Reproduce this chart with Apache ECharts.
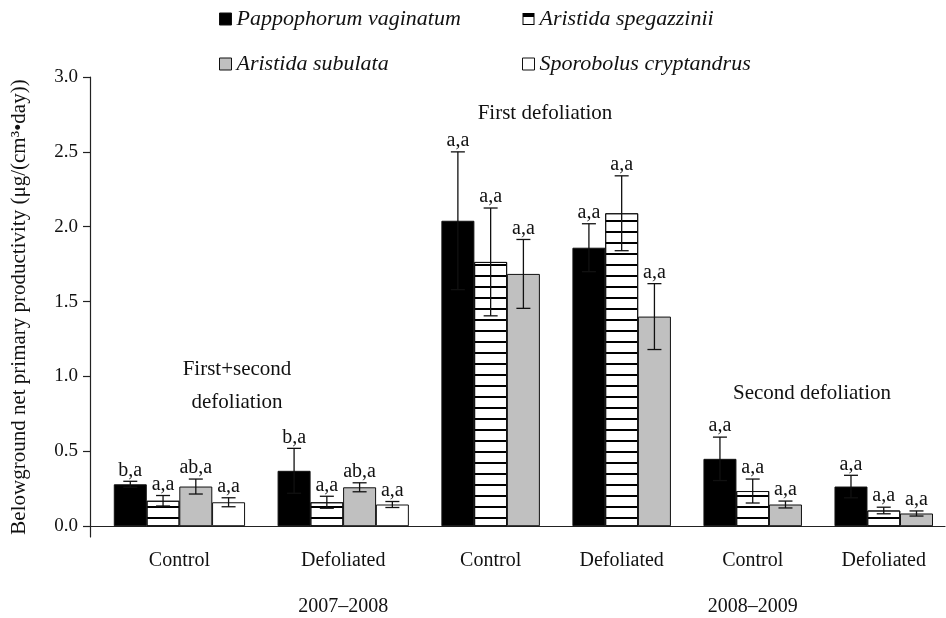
<!DOCTYPE html>
<html>
<head>
<meta charset="utf-8">
<title>Belowground net primary productivity</title>
<script src="https://cdn.jsdelivr.net/npm/echarts@6.0.0/dist/echarts.min.js"></script>
<style>
    html, body { margin: 0; padding: 0; background: #fff; }
    #main { width: 946px; height: 618px; }
</style>
</head>
<body>
<div id="main"></div>
<script>
var groupNames = ['Control', 'Defoliated', 'Control', 'Defoliated', 'Control', 'Defoliated'];
var yearNames = ['', '2007–2008', '', '', '2008–2009', ''];
var speciesNames = ['Pappophorum vaginatum', 'Aristida spegazzinii', 'Aristida subulata', 'Sporobolus cryptandrus'];

// 各物种的平均值（null 表示该处理下没有数据）
var pappophorum = [0.28, 0.37, 2.04, 1.86, 0.45, 0.265];
var spegazzinii = [0.17, 0.16, 1.765, 2.09, 0.235, 0.105];
var subulata = [0.265, 0.26, 1.685, 1.40, 0.145, 0.085];
var sporobolus = [0.16, 0.145, null, null, null, null];

// 标准误
var pappophorumErr = [0.02, 0.15, 0.46, 0.16, 0.145, 0.075];
var spegazziniiErr = [0.035, 0.04, 0.36, 0.25, 0.08, 0.022];
var subulataErr = [0.05, 0.03, 0.23, 0.22, 0.023, 0.017];
var sporobolusErr = [0.03, 0.02, null, null, null, null];

// 显著性字母
var pappophorumLetters = ['b,a', 'b,a', 'a,a', 'a,a', 'a,a', 'a,a'];
var spegazziniiLetters = ['a,a', 'a,a', 'a,a', 'a,a', 'a,a', 'a,a'];
var subulataLetters = ['ab,a', 'ab,a', 'a,a', 'a,a', 'a,a', 'a,a'];
var sporobolusLetters = ['a,a', 'a,a', null, null, null, null];

var yTicks = [0, 0.5, 1.0, 1.5, 2.0, 2.5, 3.0];

var valueSets = [pappophorum, spegazzinii, subulata, sporobolus];
var errSets = [pappophorumErr, spegazziniiErr, subulataErr, sporobolusErr];
var letterSets = [pappophorumLetters, spegazziniiLetters, subulataLetters, sporobolusLetters];

var fontName = '"Liberation Serif", "Times New Roman", serif';

// 每组的柱子连在一起，组与组之间空一个柱位
var slotStart = [];
var slotCenter = [];
var pos = 0;
for (var g = 0; g < groupNames.length; g++) {
    var n = 0;
    for (var s = 0; s < valueSets.length; s++) {
        if (valueSets[s][g] != null) n++;
    }
    slotStart.push(pos);
    slotCenter.push(pos + n / 2);
    pos += n + 1;
}

var barStyles = [
    {color: '#000', borderColor: '#111', borderWidth: 1},
    {color: '#fff', borderColor: '#111', borderWidth: 1,
        decal: {symbol: 'rect', symbolSize: 1, dashArrayX: [1, 0], dashArrayY: [2, 8.5], color: '#000'}},
    {color: '#c0c0c0', borderColor: '#111', borderWidth: 1},
    {color: '#fff', borderColor: '#111', borderWidth: 1}
];

var series = [];
var errData = [];
var errLetters = [];
for (var s = 0; s < valueSets.length; s++) {
    var data = [];
    for (var g = 0; g < groupNames.length; g++) {
        var v = valueSets[s][g];
        if (v == null) continue;
        var x = slotStart[g] + s + 0.5;
        data.push([x, v]);
        errData.push([x, v, errSets[s][g]]);
        errLetters.push(letterSets[s][g]);
    }
    series.push({
        name: speciesNames[s],
        type: 'bar',
        barWidth: 33,
        barGap: '-100%',
        itemStyle: barStyles[s],
        emphasis: {disabled: true},
        data: data
    });
}

// 误差线和字母
series.push({
    type: 'custom',
    z: 10,
    silent: true,
    data: errData,
    renderItem: function (params, api) {
        var x = api.value(0);
        var v = api.value(1);
        var e = api.value(2);
        var top = api.coord([x, v + e]);
        var bot = api.coord([x, v - e]);
        var half = 7;
        var lineStyle = {stroke: '#111', lineWidth: 1.3};
        return {
            type: 'group',
            children: [
                {type: 'line', shape: {x1: top[0], y1: top[1], x2: bot[0], y2: bot[1]}, style: lineStyle},
                {type: 'line', shape: {x1: top[0] - half, y1: top[1], x2: top[0] + half, y2: top[1]}, style: lineStyle},
                {type: 'line', shape: {x1: bot[0] - half, y1: bot[1], x2: bot[0] + half, y2: bot[1]}, style: lineStyle},
                {
                    type: 'text',
                    x: top[0],
                    y: top[1] - 1,
                    style: {
                        text: errLetters[params.dataIndex],
                        textAlign: 'center',
                        textVerticalAlign: 'bottom',
                        font: '20px ' + fontName,
                        fill: '#111'
                    }
                }
            ]
        };
    }
});

var legendText = {fontFamily: fontName, fontStyle: 'italic', fontSize: 22, color: '#111'};
var stripeIcon = 'path://M0,0H12V12H0Z M1,4V11H11V4Z';

var option = {
    animation: false,
    backgroundColor: '#fff',
    textStyle: {fontFamily: fontName, color: '#111'},
    grid: {left: 90, right: 1, top: 77, bottom: 69},
    legend: [
        {
            left: 214, top: 3, orient: 'vertical', itemGap: 23,
            itemWidth: 12, itemHeight: 12, itemStyle: {borderWidth: 1},
            textStyle: legendText,
            data: [
                {name: speciesNames[0], icon: 'rect'},
                {name: speciesNames[2], icon: 'rect'}
            ]
        },
        {
            left: 517, top: 3, orient: 'vertical', itemGap: 23,
            itemWidth: 12, itemHeight: 12, itemStyle: {borderWidth: 1},
            textStyle: legendText,
            data: [
                {name: speciesNames[1], icon: stripeIcon, itemStyle: {color: '#000', borderWidth: 0, decal: 'none'}},
                {name: speciesNames[3], icon: 'rect'}
            ]
        }
    ],
    xAxis: {
        type: 'value',
        min: -0.73,
        max: 25.37,
        splitLine: {show: false},
        axisTick: {show: false},
        axisLine: {show: true, onZero: true, lineStyle: {color: '#222', width: 1.2}},
        axisLabel: {
            customValues: slotCenter,
            margin: 12,
            fontSize: 20,
            lineHeight: 23,
            color: '#111',
            formatter: function (val) {
                for (var g = 0; g < slotCenter.length; g++) {
                    if (Math.abs(slotCenter[g] - val) < 1e-6) {
                        return yearNames[g] ? groupNames[g] + '\n\n' + yearNames[g] : groupNames[g];
                    }
                }
                return '';
            }
        }
    },
    yAxis: {
        type: 'value',
        min: -0.072,
        max: 3.0,
        name: 'Belowground net primary productivity (μg/(cm³•day))',
        nameLocation: 'middle',
        nameGap: 60,
        nameTextStyle: {fontSize: 21, color: '#111'},
        splitLine: {show: false},
        axisLine: {show: true, onZero: false, lineStyle: {color: '#222', width: 1.2}},
        axisTick: {show: true, length: 7, customValues: yTicks, lineStyle: {color: '#222', width: 1.2}},
        axisLabel: {
            customValues: yTicks,
            margin: 12,
            fontSize: 19,
            color: '#111',
            formatter: function (val) { return val.toFixed(1); }
        }
    },
    graphic: [
        {type: 'text', x: 237, y: 386, style: {text: 'First+second\ndefoliation', textAlign: 'center', textVerticalAlign: 'middle', font: '21px ' + fontName, lineHeight: 33, fill: '#111'}},
        {type: 'text', x: 545, y: 113, style: {text: 'First defoliation', textAlign: 'center', textVerticalAlign: 'middle', font: '21px ' + fontName, fill: '#111'}},
        {type: 'text', x: 812, y: 393, style: {text: 'Second defoliation', textAlign: 'center', textVerticalAlign: 'middle', font: '21px ' + fontName, fill: '#111'}}
    ],
    series: series
};

var myChart = echarts.init(document.getElementById('main'));
myChart.setOption(option);
</script>
</body>
</html>
